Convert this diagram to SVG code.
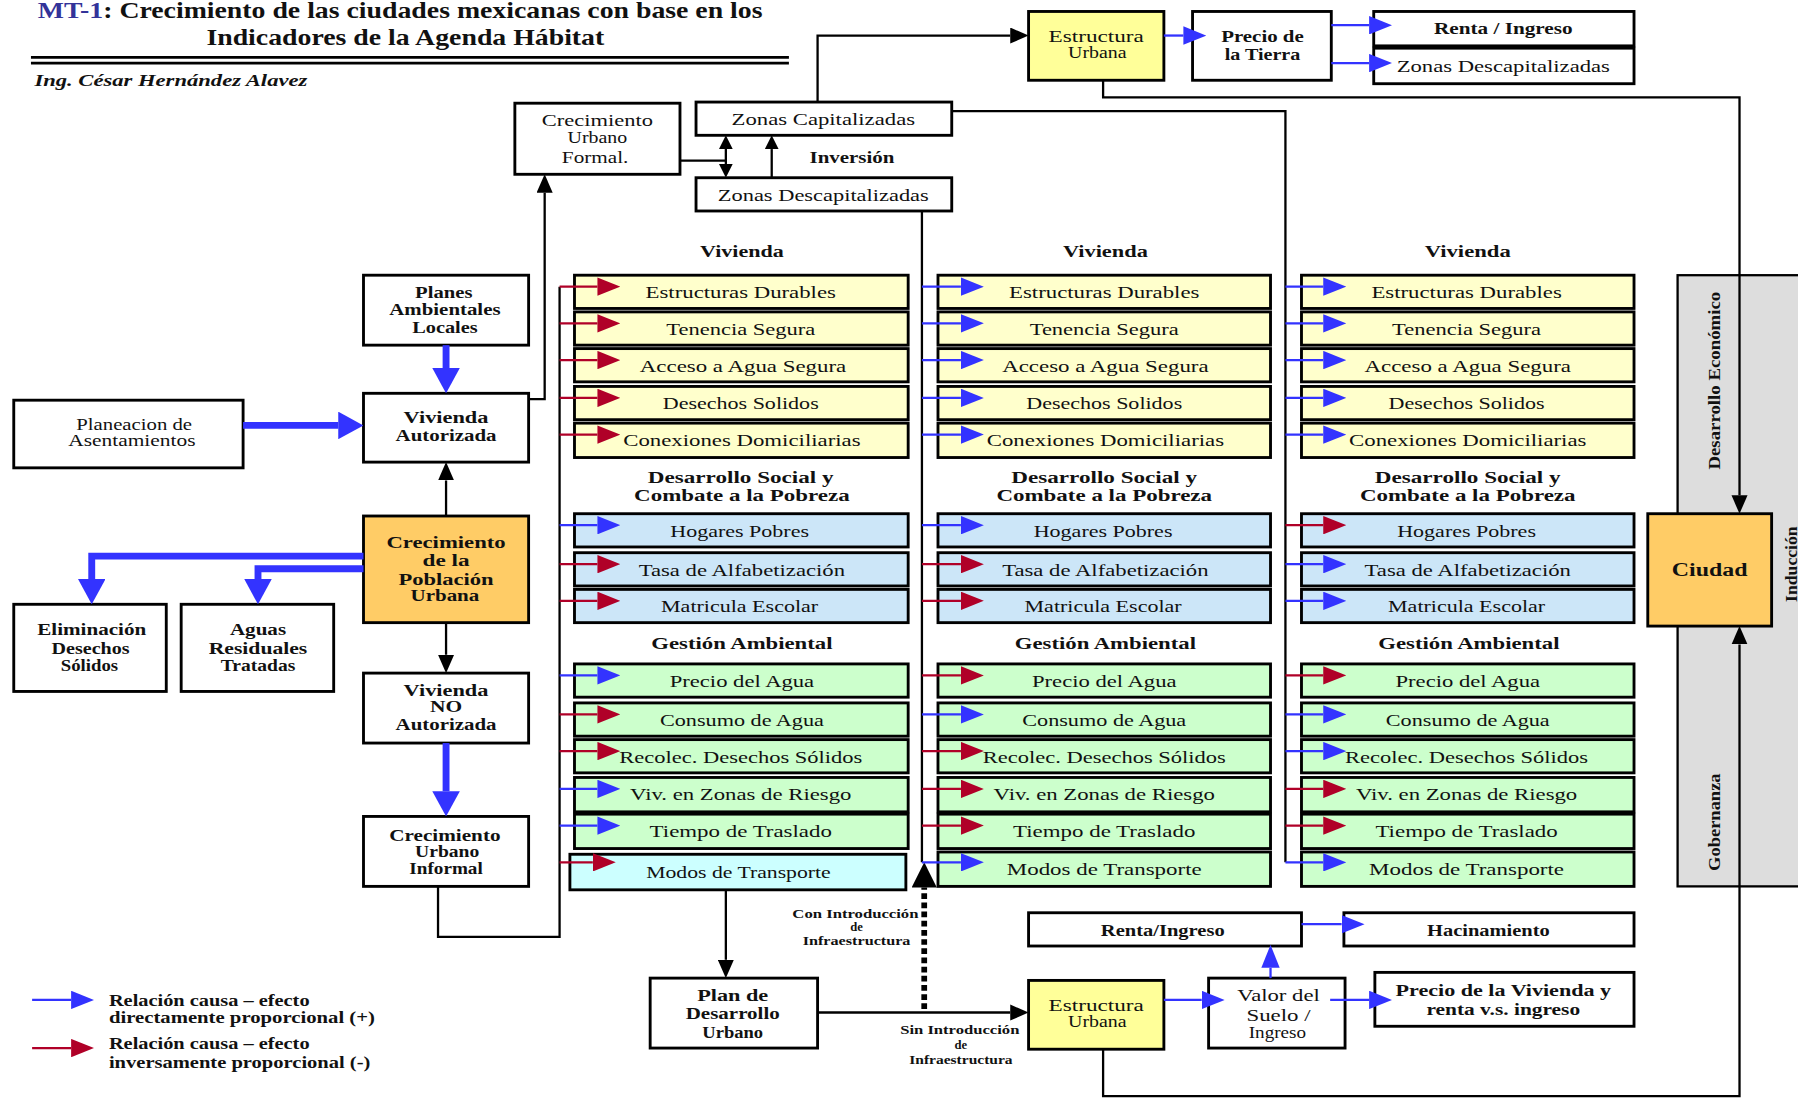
<svg xmlns="http://www.w3.org/2000/svg" width="1798" height="1098" viewBox="0 0 1798 1098">
<style>
  text { font-family: "Liberation Serif", "Times New Roman", serif; font-size: 15px; fill: #111; text-anchor: middle; }
  .b { font-weight: bold; }
  .sm { font-size: 11px; font-weight: bold; }
  .lg { font-size: 14px; font-weight: bold; text-anchor: start; }
  .ttl { font-size: 21px; font-weight: bold; text-anchor: start; }
  .box { fill: #fff; stroke: #000; stroke-width: 2.5; }
  .yel { fill: #FFFFCC; }
  .yel2 { fill: #FFFF99; }
  .blu { fill: #CCE6F8; }
  .grn { fill: #CCFFCC; }
  .cyn { fill: #CCFFFF; }
  .org { fill: #FFCC66; }
  .gry { fill: #DDDDDD; stroke: #000; stroke-width: 2; }
  .k { fill: none; stroke: #000; stroke-width: 2; }
  .kd { fill: none; stroke: #000; stroke-width: 5; stroke-dasharray: 5 3; }
  .pb { fill: none; stroke: #3333FF; stroke-width: 2; marker-end: url(#mb); }
  .pr { fill: none; stroke: #B00028; stroke-width: 2; marker-end: url(#mr); }
  .tb { fill: none; stroke: #3333FF; stroke-width: 6; marker-end: url(#mB); }
  .ka { marker-end: url(#mk); }
</style>
<defs>
  <marker id="mb" markerUnits="userSpaceOnUse" markerWidth="20" markerHeight="16" refX="0" refY="8" orient="auto" viewBox="0 0 20 16"><path d="M0,0 L20,8 L0,16 z" fill="#3333FF"/></marker>
  <marker id="mr" markerUnits="userSpaceOnUse" markerWidth="20" markerHeight="16" refX="0" refY="8" orient="auto" viewBox="0 0 20 16"><path d="M0,0 L20,8 L0,16 z" fill="#B00028"/></marker>
  <marker id="mk" markerUnits="userSpaceOnUse" markerWidth="16" markerHeight="14" refX="0" refY="7" orient="auto" viewBox="0 0 16 14"><path d="M0,0 L16,7 L0,14 z" fill="#000"/></marker>
  <marker id="mks" markerUnits="userSpaceOnUse" markerWidth="12" markerHeight="12" refX="0" refY="6" orient="auto" viewBox="0 0 12 12"><path d="M0,0 L12,6 L0,12 z" fill="#000"/></marker>
  <marker id="mkd" markerUnits="userSpaceOnUse" markerWidth="22" markerHeight="22" refX="0" refY="11" orient="auto" viewBox="0 0 22 22"><path d="M0,0 L22,11 L0,22 z" fill="#000"/></marker>
  <marker id="mB" markerUnits="userSpaceOnUse" markerWidth="22" markerHeight="24" refX="0" refY="12" orient="auto" viewBox="0 0 22 24"><path d="M0,0 L22,12 L0,24 z" fill="#3333FF"/></marker>
</defs>
<rect width="1798" height="1098" fill="#fff"/>
<g transform="scale(1.14668)">

  <!-- heading -->
  <g id="title">
    <text class="ttl" x="33" y="16" textLength="57" lengthAdjust="spacingAndGlyphs" style="fill:#333399">MT-1</text>
    <text class="ttl" x="90" y="16" textLength="575" lengthAdjust="spacingAndGlyphs">: Crecimiento de las ciudades mexicanas con base en los</text>
    <text class="ttl" x="180" y="39" textLength="347" lengthAdjust="spacingAndGlyphs">Indicadores de la Agenda Hábitat</text>
    <line x1="27" y1="50" x2="688" y2="50" stroke="#000" stroke-width="2.5"/>
    <line x1="27" y1="55" x2="688" y2="55" stroke="#000" stroke-width="2.5"/>
    <text x="30" y="75" style="font-size:15px;font-weight:bold;font-style:italic;text-anchor:start" textLength="238" lengthAdjust="spacingAndGlyphs">Ing. César Hernández Alavez</text>
  </g>

  <!-- side panel -->
  <g id="panel">
    <rect class="gry" x="1463" y="240" width="130" height="533"/>
    <text class="b" transform="translate(1500,332) rotate(-90)" style="font-size:14px" textLength="155" lengthAdjust="spacingAndGlyphs">Desarrollo Económico</text>
    <text class="b" transform="translate(1500,717) rotate(-90)" style="font-size:14px" textLength="85" lengthAdjust="spacingAndGlyphs">Gobernanza</text>
    <text class="b" transform="translate(1567,492) rotate(-90)" style="font-size:14px" textLength="66" lengthAdjust="spacingAndGlyphs">Inducción</text>
  </g>

  <!-- nodes, upper area -->
  <g id="crec-formal"><rect class="box" x="449" y="90" width="144" height="62"/>
    <text x="521" y="110" textLength="97" lengthAdjust="spacingAndGlyphs">Crecimiento</text>
    <text x="521" y="125" textLength="52" lengthAdjust="spacingAndGlyphs">Urbano</text>
    <text x="519" y="142" textLength="58" lengthAdjust="spacingAndGlyphs">Formal.</text></g>
  <g id="zonas-cap"><rect class="box" x="607" y="89" width="223" height="29"/>
    <text x="718" y="109" textLength="160" lengthAdjust="spacingAndGlyphs">Zonas Capitalizadas</text></g>
  <g id="inversion"><text class="b" x="743" y="142" style="font-size:14px" textLength="74" lengthAdjust="spacingAndGlyphs">Inversión</text></g>
  <g id="zonas-descap"><rect class="box" x="607" y="155" width="223" height="29"/>
    <text x="718" y="175" textLength="184" lengthAdjust="spacingAndGlyphs">Zonas Descapitalizadas</text></g>
  <g id="estructura-top"><rect class="box yel2" x="897" y="10" width="118" height="60"/>
    <text x="956" y="37" textLength="83" lengthAdjust="spacingAndGlyphs">Estructura</text>
    <text x="957" y="51" textLength="51" lengthAdjust="spacingAndGlyphs">Urbana</text></g>
  <g id="precio-tierra"><rect class="box" x="1040" y="10" width="121" height="60"/>
    <text class="b" x="1101" y="37" textLength="72" lengthAdjust="spacingAndGlyphs">Precio de</text>
    <text class="b" x="1101" y="52" textLength="66" lengthAdjust="spacingAndGlyphs">la Tierra</text></g>
  <g id="renta-top"><rect class="box" x="1198" y="10" width="227" height="30"/>
    <text class="b" x="1311" y="30" textLength="121" lengthAdjust="spacingAndGlyphs">Renta / Ingreso</text></g>
  <g id="zonas-descap-top"><rect class="box" x="1198" y="42" width="227" height="31"/>
    <text x="1311" y="63" textLength="186" lengthAdjust="spacingAndGlyphs">Zonas Descapitalizadas</text></g>

  <!-- nodes, left area -->
  <g id="planes"><rect class="box" x="317" y="240" width="144" height="61"/>
    <text class="b" x="387" y="260" textLength="50" lengthAdjust="spacingAndGlyphs">Planes</text>
    <text class="b" x="388" y="275" textLength="97" lengthAdjust="spacingAndGlyphs">Ambientales</text>
    <text class="b" x="388" y="290" textLength="57" lengthAdjust="spacingAndGlyphs">Locales</text></g>
  <g id="planeacion"><rect class="box" x="12" y="349" width="200" height="59"/>
    <text x="117" y="375" textLength="101" lengthAdjust="spacingAndGlyphs">Planeacion de</text>
    <text x="115" y="389" textLength="111" lengthAdjust="spacingAndGlyphs">Asentamientos</text></g>
  <g id="viv-aut"><rect class="box" x="317" y="343" width="144" height="60"/>
    <text class="b" x="389" y="369" textLength="74" lengthAdjust="spacingAndGlyphs">Vivienda</text>
    <text class="b" x="389" y="385" textLength="88" lengthAdjust="spacingAndGlyphs">Autorizada</text></g>
  <g id="crec-pob"><rect class="box org" x="317" y="450" width="144" height="93"/>
    <text class="b" x="389" y="478" textLength="104" lengthAdjust="spacingAndGlyphs">Crecimiento</text>
    <text class="b" x="389" y="494" textLength="41" lengthAdjust="spacingAndGlyphs">de la</text>
    <text class="b" x="389" y="510" textLength="83" lengthAdjust="spacingAndGlyphs">Población</text>
    <text class="b" x="388" y="524" textLength="60" lengthAdjust="spacingAndGlyphs">Urbana</text></g>
  <g id="eliminacion"><rect class="box" x="12" y="527" width="133" height="76"/>
    <text class="b" x="80" y="554" textLength="95" lengthAdjust="spacingAndGlyphs">Eliminación</text>
    <text class="b" x="79" y="570" textLength="68" lengthAdjust="spacingAndGlyphs">Desechos</text>
    <text class="b" x="78" y="585" textLength="50" lengthAdjust="spacingAndGlyphs">Sólidos</text></g>
  <g id="aguas"><rect class="box" x="158" y="527" width="133" height="76"/>
    <text class="b" x="225" y="554" textLength="49" lengthAdjust="spacingAndGlyphs">Aguas</text>
    <text class="b" x="225" y="570" textLength="86" lengthAdjust="spacingAndGlyphs">Residuales</text>
    <text class="b" x="225" y="585" textLength="65" lengthAdjust="spacingAndGlyphs">Tratadas</text></g>
  <g id="viv-no-aut"><rect class="box" x="317" y="587" width="144" height="61"/>
    <text class="b" x="389" y="607" textLength="74" lengthAdjust="spacingAndGlyphs">Vivienda</text>
    <text class="b" x="389" y="621" textLength="28" lengthAdjust="spacingAndGlyphs">NO</text>
    <text class="b" x="389" y="637" textLength="88" lengthAdjust="spacingAndGlyphs">Autorizada</text></g>
  <g id="crec-informal"><rect class="box" x="317" y="712" width="144" height="61"/>
    <text class="b" x="388" y="733" textLength="97" lengthAdjust="spacingAndGlyphs">Crecimiento</text>
    <text class="b" x="390" y="747" textLength="56" lengthAdjust="spacingAndGlyphs">Urbano</text>
    <text class="b" x="389" y="762" textLength="64" lengthAdjust="spacingAndGlyphs">Informal</text></g>

  <!-- indicator headings -->
  <g id="headings">
    <text class="b" x="647" y="224" textLength="73" lengthAdjust="spacingAndGlyphs">Vivienda</text>
    <text class="b" x="646" y="421" textLength="162" lengthAdjust="spacingAndGlyphs">Desarrollo Social y</text>
    <text class="b" x="647" y="437" textLength="188" lengthAdjust="spacingAndGlyphs">Combate a la Pobreza</text>
    <text class="b" x="647" y="566" textLength="158" lengthAdjust="spacingAndGlyphs">Gestión Ambiental</text>
    <text class="b" x="964" y="224" textLength="74" lengthAdjust="spacingAndGlyphs">Vivienda</text>
    <text class="b" x="963" y="421" textLength="162" lengthAdjust="spacingAndGlyphs">Desarrollo Social y</text>
    <text class="b" x="963" y="437" textLength="188" lengthAdjust="spacingAndGlyphs">Combate a la Pobreza</text>
    <text class="b" x="964" y="566" textLength="158" lengthAdjust="spacingAndGlyphs">Gestión Ambiental</text>
    <text class="b" x="1280" y="224" textLength="75" lengthAdjust="spacingAndGlyphs">Vivienda</text>
    <text class="b" x="1280" y="421" textLength="162" lengthAdjust="spacingAndGlyphs">Desarrollo Social y</text>
    <text class="b" x="1280" y="437" textLength="188" lengthAdjust="spacingAndGlyphs">Combate a la Pobreza</text>
    <text class="b" x="1281" y="566" textLength="158" lengthAdjust="spacingAndGlyphs">Gestión Ambiental</text>
  </g>

  <!-- indicator column 1 -->
  <g id="col1">
    <g id="c1-r1"><rect class="box yel" x="501" y="240" width="291" height="29"/><text x="646" y="260" textLength="166" lengthAdjust="spacingAndGlyphs">Estructuras Durables</text></g>
    <g id="c1-r2"><rect class="box yel" x="501" y="272" width="291" height="29"/><text x="646" y="292" textLength="130" lengthAdjust="spacingAndGlyphs">Tenencia Segura</text></g>
    <g id="c1-r3"><rect class="box yel" x="501" y="304" width="291" height="29"/><text x="648" y="324" textLength="180" lengthAdjust="spacingAndGlyphs">Acceso a Agua Segura</text></g>
    <g id="c1-r4"><rect class="box yel" x="501" y="337" width="291" height="29"/><text x="646" y="357" textLength="136" lengthAdjust="spacingAndGlyphs">Desechos Solidos</text></g>
    <g id="c1-r5"><rect class="box yel" x="501" y="369" width="291" height="30"/><text x="647" y="389" textLength="207" lengthAdjust="spacingAndGlyphs">Conexiones Domiciliarias</text></g>
    <g id="c1-r6"><rect class="box blu" x="501" y="448" width="291" height="29"/><text x="645" y="468" textLength="121" lengthAdjust="spacingAndGlyphs">Hogares Pobres</text></g>
    <g id="c1-r7"><rect class="box blu" x="501" y="482" width="291" height="29"/><text x="647" y="502" textLength="180" lengthAdjust="spacingAndGlyphs">Tasa de Alfabetización</text></g>
    <g id="c1-r8"><rect class="box blu" x="501" y="514" width="291" height="29"/><text x="645" y="534" textLength="137" lengthAdjust="spacingAndGlyphs">Matricula Escolar</text></g>
    <g id="c1-r9"><rect class="box grn" x="501" y="579" width="291" height="29"/><text x="647" y="599" textLength="126" lengthAdjust="spacingAndGlyphs">Precio del Agua</text></g>
    <g id="c1-r10"><rect class="box grn" x="501" y="613" width="291" height="29"/><text x="647" y="633" textLength="143" lengthAdjust="spacingAndGlyphs">Consumo de Agua</text></g>
    <g id="c1-r11"><rect class="box grn" x="501" y="645" width="291" height="29"/><text x="646" y="665" textLength="212" lengthAdjust="spacingAndGlyphs">Recolec. Desechos Sólidos</text></g>
    <g id="c1-r12"><rect class="box grn" x="501" y="678" width="291" height="30"/><text x="646" y="698" textLength="193" lengthAdjust="spacingAndGlyphs">Viv. en Zonas de Riesgo</text></g>
    <g id="c1-r13"><rect class="box grn" x="501" y="710" width="291" height="30"/><text x="646" y="730" textLength="159" lengthAdjust="spacingAndGlyphs">Tiempo de Traslado</text></g>
    <g id="c1-r14"><rect class="box cyn" x="497" y="745" width="293" height="31"/><text x="644" y="766" textLength="161" lengthAdjust="spacingAndGlyphs">Modos de Transporte</text></g>
  </g>

  <!-- indicator column 2 -->
  <g id="col2">
    <g id="c2-r1"><rect class="box yel" x="818" y="240" width="290" height="29"/><text x="963" y="260" textLength="166" lengthAdjust="spacingAndGlyphs">Estructuras Durables</text></g>
    <g id="c2-r2"><rect class="box yel" x="818" y="272" width="290" height="29"/><text x="963" y="292" textLength="130" lengthAdjust="spacingAndGlyphs">Tenencia Segura</text></g>
    <g id="c2-r3"><rect class="box yel" x="818" y="304" width="290" height="29"/><text x="964" y="324" textLength="180" lengthAdjust="spacingAndGlyphs">Acceso a Agua Segura</text></g>
    <g id="c2-r4"><rect class="box yel" x="818" y="337" width="290" height="29"/><text x="963" y="357" textLength="136" lengthAdjust="spacingAndGlyphs">Desechos Solidos</text></g>
    <g id="c2-r5"><rect class="box yel" x="818" y="369" width="290" height="30"/><text x="964" y="389" textLength="207" lengthAdjust="spacingAndGlyphs">Conexiones Domiciliarias</text></g>
    <g id="c2-r6"><rect class="box blu" x="818" y="448" width="290" height="29"/><text x="962" y="468" textLength="121" lengthAdjust="spacingAndGlyphs">Hogares Pobres</text></g>
    <g id="c2-r7"><rect class="box blu" x="818" y="482" width="290" height="29"/><text x="964" y="502" textLength="180" lengthAdjust="spacingAndGlyphs">Tasa de Alfabetización</text></g>
    <g id="c2-r8"><rect class="box blu" x="818" y="514" width="290" height="29"/><text x="962" y="534" textLength="137" lengthAdjust="spacingAndGlyphs">Matricula Escolar</text></g>
    <g id="c2-r9"><rect class="box grn" x="818" y="579" width="290" height="29"/><text x="963" y="599" textLength="126" lengthAdjust="spacingAndGlyphs">Precio del Agua</text></g>
    <g id="c2-r10"><rect class="box grn" x="818" y="613" width="290" height="29"/><text x="963" y="633" textLength="143" lengthAdjust="spacingAndGlyphs">Consumo de Agua</text></g>
    <g id="c2-r11"><rect class="box grn" x="818" y="645" width="290" height="29"/><text x="963" y="665" textLength="212" lengthAdjust="spacingAndGlyphs">Recolec. Desechos Sólidos</text></g>
    <g id="c2-r12"><rect class="box grn" x="818" y="678" width="290" height="30"/><text x="963" y="698" textLength="193" lengthAdjust="spacingAndGlyphs">Viv. en Zonas de Riesgo</text></g>
    <g id="c2-r13"><rect class="box grn" x="818" y="710" width="290" height="30"/><text x="963" y="730" textLength="159" lengthAdjust="spacingAndGlyphs">Tiempo de Traslado</text></g>
    <g id="c2-r14"><rect class="box grn" x="818" y="743" width="290" height="30"/><text x="963" y="763" textLength="170" lengthAdjust="spacingAndGlyphs">Modos de Transporte</text></g>
  </g>

  <!-- indicator column 3 -->
  <g id="col3">
    <g id="c3-r1"><rect class="box yel" x="1135" y="240" width="290" height="29"/><text x="1279" y="260" textLength="166" lengthAdjust="spacingAndGlyphs">Estructuras Durables</text></g>
    <g id="c3-r2"><rect class="box yel" x="1135" y="272" width="290" height="29"/><text x="1279" y="292" textLength="130" lengthAdjust="spacingAndGlyphs">Tenencia Segura</text></g>
    <g id="c3-r3"><rect class="box yel" x="1135" y="304" width="290" height="29"/><text x="1280" y="324" textLength="180" lengthAdjust="spacingAndGlyphs">Acceso a Agua Segura</text></g>
    <g id="c3-r4"><rect class="box yel" x="1135" y="337" width="290" height="29"/><text x="1279" y="357" textLength="136" lengthAdjust="spacingAndGlyphs">Desechos Solidos</text></g>
    <g id="c3-r5"><rect class="box yel" x="1135" y="369" width="290" height="30"/><text x="1280" y="389" textLength="207" lengthAdjust="spacingAndGlyphs">Conexiones Domiciliarias</text></g>
    <g id="c3-r6"><rect class="box blu" x="1135" y="448" width="290" height="29"/><text x="1279" y="468" textLength="121" lengthAdjust="spacingAndGlyphs">Hogares Pobres</text></g>
    <g id="c3-r7"><rect class="box blu" x="1135" y="482" width="290" height="29"/><text x="1280" y="502" textLength="180" lengthAdjust="spacingAndGlyphs">Tasa de Alfabetización</text></g>
    <g id="c3-r8"><rect class="box blu" x="1135" y="514" width="290" height="29"/><text x="1279" y="534" textLength="137" lengthAdjust="spacingAndGlyphs">Matricula Escolar</text></g>
    <g id="c3-r9"><rect class="box grn" x="1135" y="579" width="290" height="29"/><text x="1280" y="599" textLength="126" lengthAdjust="spacingAndGlyphs">Precio del Agua</text></g>
    <g id="c3-r10"><rect class="box grn" x="1135" y="613" width="290" height="29"/><text x="1280" y="633" textLength="143" lengthAdjust="spacingAndGlyphs">Consumo de Agua</text></g>
    <g id="c3-r11"><rect class="box grn" x="1135" y="645" width="290" height="29"/><text x="1279" y="665" textLength="212" lengthAdjust="spacingAndGlyphs">Recolec. Desechos Sólidos</text></g>
    <g id="c3-r12"><rect class="box grn" x="1135" y="678" width="290" height="30"/><text x="1279" y="698" textLength="193" lengthAdjust="spacingAndGlyphs">Viv. en Zonas de Riesgo</text></g>
    <g id="c3-r13"><rect class="box grn" x="1135" y="710" width="290" height="30"/><text x="1279" y="730" textLength="159" lengthAdjust="spacingAndGlyphs">Tiempo de Traslado</text></g>
    <g id="c3-r14"><rect class="box grn" x="1135" y="743" width="290" height="30"/><text x="1279" y="763" textLength="170" lengthAdjust="spacingAndGlyphs">Modos de Transporte</text></g>
  </g>

  <!-- city -->
  <g id="ciudad"><rect class="box org" x="1437" y="448" width="108" height="98"/>
    <text class="b" x="1491" y="502" style="font-size:16px" textLength="66" lengthAdjust="spacingAndGlyphs">Ciudad</text></g>

  <!-- nodes, lower area -->
  <g id="plan-desarrollo"><rect class="box" x="567" y="853" width="146" height="61"/>
    <text class="b" x="639" y="873" textLength="62" lengthAdjust="spacingAndGlyphs">Plan de</text>
    <text class="b" x="639" y="889" textLength="82" lengthAdjust="spacingAndGlyphs">Desarrollo</text>
    <text class="b" x="639" y="905" textLength="53" lengthAdjust="spacingAndGlyphs">Urbano</text></g>
  <g id="estructura-bottom"><rect class="box yel2" x="897" y="855" width="118" height="60"/>
    <text x="956" y="882" textLength="83" lengthAdjust="spacingAndGlyphs">Estructura</text>
    <text x="957" y="896" textLength="51" lengthAdjust="spacingAndGlyphs">Urbana</text></g>
  <g id="valor-suelo"><rect class="box" x="1054" y="853" width="119" height="61"/>
    <text x="1115" y="873" textLength="72" lengthAdjust="spacingAndGlyphs">Valor del</text>
    <text x="1115" y="890" textLength="56" lengthAdjust="spacingAndGlyphs">Suelo /</text>
    <text x="1114" y="905" textLength="50" lengthAdjust="spacingAndGlyphs">Ingreso</text></g>
  <g id="renta-bottom"><rect class="box" x="897" y="796" width="238" height="29"/>
    <text class="b" x="1014" y="816" textLength="108" lengthAdjust="spacingAndGlyphs">Renta/Ingreso</text></g>
  <g id="hacinamiento"><rect class="box" x="1172" y="796" width="253" height="29"/>
    <text class="b" x="1298" y="816" textLength="107" lengthAdjust="spacingAndGlyphs">Hacinamiento</text></g>
  <g id="precio-vivienda"><rect class="box" x="1199" y="848" width="226" height="47"/>
    <text class="b" x="1311" y="869" textLength="188" lengthAdjust="spacingAndGlyphs">Precio de la Vivienda y</text>
    <text class="b" x="1311" y="885" textLength="134" lengthAdjust="spacingAndGlyphs">renta v.s. ingreso</text></g>
  <g id="con-infra">
    <text class="sm" x="746" y="801" textLength="110" lengthAdjust="spacingAndGlyphs">Con Introducción</text>
    <text class="sm" x="747" y="812">de</text>
    <text class="sm" x="747" y="824" textLength="94" lengthAdjust="spacingAndGlyphs">Infraestructura</text></g>
  <g id="sin-infra">
    <text class="sm" x="837" y="902" textLength="104" lengthAdjust="spacingAndGlyphs">Sin Introducción</text>
    <text class="sm" x="838" y="915">de</text>
    <text class="sm" x="838" y="928" textLength="90" lengthAdjust="spacingAndGlyphs">Infraestructura</text></g>

  <!-- legend -->
  <g id="legend">
    <path class="pb" d="M28,872 H62"/>
    <path class="pr" d="M28,914 H62"/>
    <text class="lg" x="95" y="877" textLength="175" lengthAdjust="spacingAndGlyphs">Relación causa – efecto</text>
    <text class="lg" x="95" y="892" textLength="232" lengthAdjust="spacingAndGlyphs">directamente proporcional (+)</text>
    <text class="lg" x="95" y="915" textLength="175" lengthAdjust="spacingAndGlyphs">Relación causa – efecto</text>
    <text class="lg" x="95" y="931" textLength="228" lengthAdjust="spacingAndGlyphs">inversamente proporcional (-)</text>
  </g>

  <!-- connectors -->
  <g id="connectors">
    <!-- black flow lines -->
    <path class="k ka" d="M389,450 V419"/>
    <path class="k ka" d="M389,543 V571"/>
    <path class="k ka" d="M461,348 H475 V168"/>
    <path class="k" d="M593,140 H633 V130" marker-end="url(#mks)"/>
    <path class="k" d="M633,140 V143" marker-end="url(#mks)"/>
    <path class="k" d="M673,155 V130" marker-end="url(#mks)"/>
    <path class="k ka" d="M713,89 V31 H881"/>
    <path class="k ka" d="M962,70 V85 H1517 V432"/>
    <path class="k ka" d="M962,915 V956 H1517 V562"/>
    <path class="k ka" d="M633,776 V837"/>
    <path class="k ka" d="M713,883 H881"/>
    <path class="kd" d="M806,880 V774" marker-end="url(#mkd)"/>

    <!-- thick blue flows -->
    <path class="tb" d="M389,301 V321"/>
    <path class="tb" d="M212,371 H295"/>
    <path class="tb" d="M317,485 H80 V505"/>
    <path class="tb" d="M317,496 H225 V505"/>
    <path class="tb" d="M389,648 V690"/>

    <!-- blue flows, top and bottom -->
    <path class="pb" d="M1015,31 H1032"/>
    <path class="pb" d="M1161,22 H1194"/>
    <path class="pb" d="M1161,55 H1194"/>
    <path class="pb" d="M1015,872 H1048"/>
    <path class="pb" d="M1108,853 V844"/>
    <path class="pb" d="M1135,806 H1170"/>
    <path class="pb" d="M1160,872 H1194"/>

    <!-- column buses -->
    <path class="k" d="M382,773 V817 H488 V250"/>
    <path class="k" d="M804,184 V752"/>
    <path class="k" d="M830,97 H1121 V752"/>

    <!-- column 1 links -->
    <path class="pr" d="M488,250 H521"/>
    <path class="pr" d="M488,282 H521"/>
    <path class="pr" d="M488,314 H521"/>
    <path class="pr" d="M488,347 H521"/>
    <path class="pr" d="M488,379 H521"/>
    <path class="pb" d="M488,458 H521"/>
    <path class="pr" d="M488,492 H521"/>
    <path class="pr" d="M488,524 H521"/>
    <path class="pb" d="M488,589 H521"/>
    <path class="pr" d="M488,623 H521"/>
    <path class="pr" d="M488,655 H521"/>
    <path class="pb" d="M488,688 H521"/>
    <path class="pb" d="M488,720 H521"/>
    <path class="pr" d="M488,752 H517"/>

    <!-- column 2 links -->
    <path class="pb" d="M804,250 H838"/>
    <path class="pb" d="M804,282 H838"/>
    <path class="pb" d="M804,314 H838"/>
    <path class="pb" d="M804,347 H838"/>
    <path class="pb" d="M804,379 H838"/>
    <path class="pb" d="M804,458 H838"/>
    <path class="pr" d="M804,492 H838"/>
    <path class="pr" d="M804,524 H838"/>
    <path class="pr" d="M804,589 H838"/>
    <path class="pb" d="M804,623 H838"/>
    <path class="pr" d="M804,655 H838"/>
    <path class="pr" d="M804,688 H838"/>
    <path class="pr" d="M804,720 H838"/>
    <path class="pb" d="M804,752 H838"/>

    <!-- column 3 links -->
    <path class="pb" d="M1121,250 H1154"/>
    <path class="pb" d="M1121,282 H1154"/>
    <path class="pb" d="M1121,314 H1154"/>
    <path class="pb" d="M1121,347 H1154"/>
    <path class="pb" d="M1121,379 H1154"/>
    <path class="pr" d="M1121,458 H1154"/>
    <path class="pb" d="M1121,492 H1154"/>
    <path class="pb" d="M1121,524 H1154"/>
    <path class="pr" d="M1121,589 H1154"/>
    <path class="pb" d="M1121,623 H1154"/>
    <path class="pb" d="M1121,655 H1154"/>
    <path class="pr" d="M1121,688 H1154"/>
    <path class="pr" d="M1121,720 H1154"/>
    <path class="pb" d="M1121,752 H1154"/>
  </g>
</g>
</svg>
